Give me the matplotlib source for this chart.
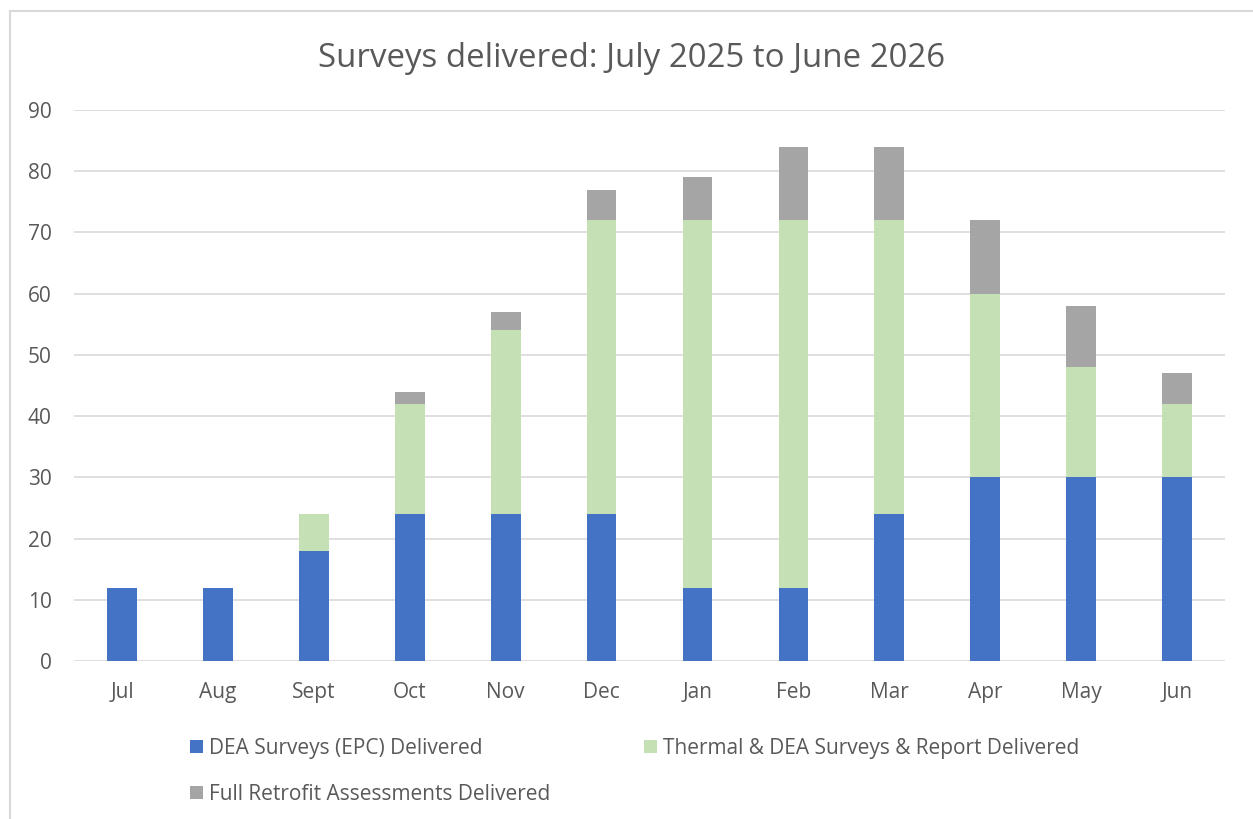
import numpy as np
import matplotlib
matplotlib.use("Agg")
import matplotlib.pyplot as plt
from matplotlib.patches import Rectangle

months = ["Jul", "Aug", "Sept", "Oct", "Nov", "Dec", "Jan", "Feb", "Mar", "Apr", "May", "Jun"]
dea = [12, 12, 18, 24, 24, 24, 12, 12, 24, 30, 30, 30]
thermal = [0, 0, 6, 18, 30, 48, 60, 60, 48, 30, 18, 12]
retrofit = [0, 0, 0, 2, 3, 5, 7, 12, 12, 12, 10, 5]
series_names = ["DEA Surveys (EPC) Delivered",
                "Thermal & DEA Surveys & Report Delivered",
                "Full Retrofit Assessments Delivered"]

plt.rcParams['font.family'] = ['Open Sans', 'DejaVu Sans']
txt = "#595959"

fig = plt.figure(figsize=(12.53, 8.19), dpi=100)
ax = fig.add_axes([0.0591, 0.1929, 0.9186, 0.6728])

x = np.arange(len(months))
w = 0.31
dea = np.array(dea)
thermal = np.array(thermal)
retrofit = np.array(retrofit)
b1 = ax.bar(x, dea, w, color="#4472C4", zorder=3)
b2 = ax.bar(x, thermal, w, bottom=dea, color="#C5E0B4", zorder=3)
b3 = ax.bar(x, retrofit, w, bottom=dea + thermal, color="#A5A5A5", zorder=3)

ax.set_xlim(-0.5, len(months) - 0.5)
ax.set_ylim(0, 90)
ax.set_yticks(range(0, 91, 10))
ax.set_xticks(x)
ax.set_xticklabels(months)
ax.grid(axis="y", color="#D9D9D9", linewidth=1.2, zorder=0)
for s in ax.spines.values():
    s.set_visible(False)
ax.tick_params(axis="both", length=0, labelsize=15, colors=txt)
ax.tick_params(axis="y", pad=16)
ax.tick_params(axis="x", pad=15)

fig.text(0.504, 0.929, "Surveys delivered: July 2025 to June 2026", ha="center", va="center",
         fontsize=23.8, color=txt)

# outer chart border
fig.patches.append(Rectangle((10 / 1253, -0.1), 1.2, 1 - 11 / 819 + 0.1, transform=fig.transFigure,
                             fill=False, edgecolor="#D9D9D9", linewidth=1.5))

leg = fig.legend([b1, b3, b2], [series_names[0], series_names[2], series_names[1]],
                 ncol=2, loc="upper left", bbox_to_anchor=(0.137, 0.122), frameon=False,
                 fontsize=15, labelcolor=txt, handlelength=0.6, handleheight=0.6,
                 handletextpad=0.3, columnspacing=4.5, labelspacing=1.2)

fig.savefig("out.png", dpi=100)
